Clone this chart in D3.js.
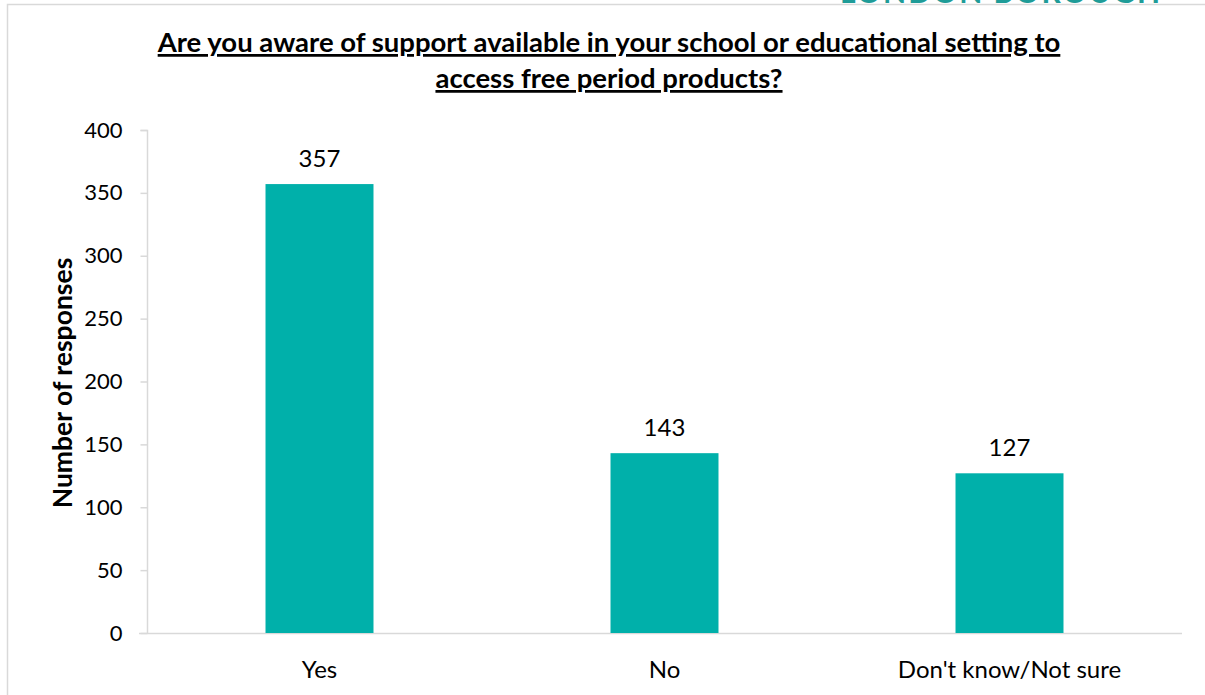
<!DOCTYPE html>
<html>
<head>
<meta charset="utf-8">
<script src="https://cdn.jsdelivr.net/npm/d3@7"></script>
<style>
  html, body { margin: 0; padding: 0; background: #ffffff; }
  svg { display: block; }
  text { font-family: "Lato", "Open Sans", "Liberation Sans", sans-serif; fill: #000; }
</style>
</head>
<body>
<svg id="chart" width="1205" height="695"></svg>
<script>
// Survey responses
const categories = ["Yes", "No", "Don't know/Not sure"];
const responses = [357, 143, 127];
const yTicks = [0, 50, 100, 150, 200, 250, 300, 350, 400];
const titleLines = [
  "Are you aware of support available in your school or educational setting to",
  "access free period products?"
];
const yTitle = "Number of responses";
const headerText = "LONDON BOROUGH";

const W = 1205, H = 695;
const margin = { top: 130, right: 23, bottom: 62, left: 147 };
const svg = d3.select("#chart");

// Header strip with the clipped borough wordmark
svg.append("text")
  .attr("x", 1001).attr("y", 3)
  .attr("text-anchor", "middle")
  .style("font-size", "30px").style("font-weight", "700")
  .style("letter-spacing", "2px")
  .style("fill", "#1f9c98")
  .text(headerText);

// Chart frame (top and left edges visible)
svg.append("rect")
  .attr("x", 7.5).attr("y", 4.5)
  .attr("width", W + 20).attr("height", H + 20)
  .attr("fill", "none").attr("stroke", "#d9d9d9").attr("stroke-width", 1.5);

const x = d3.scaleBand()
  .domain(categories)
  .range([margin.left, W - margin.right])
  .paddingInner(0.687)
  .paddingOuter(0.3435);

const y = d3.scaleLinear()
  .domain([0, 400])
  .range([H - margin.bottom, margin.top]);

const FONT = "Lato, 'Open Sans', sans-serif";

// Y axis
const yAxis = d3.axisLeft(y).tickValues(yTicks).tickSize(7).tickPadding(18);
const gy = svg.append("g")
  .attr("transform", `translate(${margin.left + 0.5},0)`)
  .call(yAxis);
gy.select(".domain").attr("stroke", "#d9d9d9").attr("stroke-width", 1.5)
  .attr("d", `M-7,${y(400) + 0.5}H0V${y(0) + 0.5}`);
gy.selectAll(".tick line").attr("stroke", "#d9d9d9").attr("stroke-width", 1.5);
gy.selectAll(".tick text").style("font-size", "22px").attr("fill", "#000")
  .style("font-family", FONT);

// X axis
const xAxis = d3.axisBottom(x).tickSize(0).tickPadding(27);
const gx = svg.append("g")
  .attr("transform", `translate(0,${y(0) + 0.5})`)
  .call(xAxis);
gx.select(".domain").attr("stroke", "#d9d9d9").attr("stroke-width", 1.5)
  .attr("d", `M${margin.left - 8},0H${W - margin.right}`);
gx.selectAll(".tick text").style("font-size", "24px").attr("fill", "#000")
  .style("font-family", FONT);

// Bars
svg.append("g").selectAll("rect")
  .data(responses)
  .join("rect")
  .attr("x", (d, i) => x(categories[i]))
  .attr("y", d => y(d))
  .attr("width", x.bandwidth())
  .attr("height", d => y(0) - y(d))
  .attr("fill", "#00b0aa");

// Value labels
svg.append("g").selectAll("text")
  .data(responses)
  .join("text")
  .attr("x", (d, i) => x(categories[i]) + x.bandwidth() / 2)
  .attr("y", d => y(d) - 17)
  .attr("text-anchor", "middle")
  .style("font-size", "24px")
  .text(d => d);

// Title (bold, underlined)
svg.append("g").selectAll("text")
  .data(titleLines)
  .join("text")
  .attr("x", 609)
  .attr("y", (d, i) => 52 + i * 36)
  .attr("text-anchor", "middle")
  .style("font-size", "27.5px").style("font-weight", "700")
  .style("text-decoration", "underline")
  .text(d => d);

// Y axis title
svg.append("text")
  .attr("transform", `translate(72,383) rotate(-90)`)
  .attr("text-anchor", "middle")
  .style("font-size", "26.5px").style("font-weight", "700")
  .text(yTitle);
</script>
</body>
</html>
